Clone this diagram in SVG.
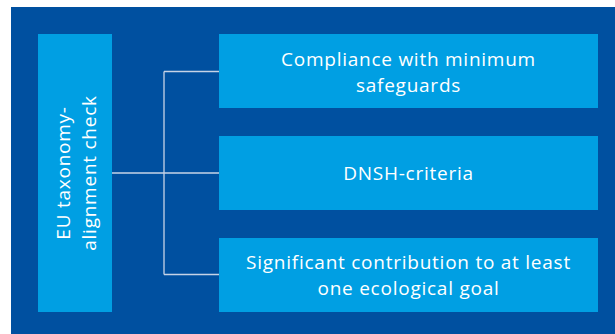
<svg xmlns="http://www.w3.org/2000/svg" width="615" height="334" viewBox="0 0 615 334">
<style>
.bg{fill:#0050a0}
.box{fill:#009fe3}
.t{font-family:"Open Sans","Noto Sans","Liberation Sans",sans-serif;font-size:19px;letter-spacing:0.75px;fill:#ffffff;text-anchor:middle}
.ln{stroke:#c6d3e6;stroke-width:1.3;fill:none}
</style>
<rect x="0" y="0" width="615" height="334" fill="#ffffff"/>
<rect class="bg" x="11" y="7" width="604" height="327"/>
<g id="connectors">
<path class="ln" d="M112 173H219M164 71.5V274.5M164 71.5H219M164 274.5H219"/>
</g>
<g id="node-check">
<rect class="box" x="38" y="34" width="74" height="278"/>
<g transform="translate(75,173) rotate(-90)">
<text class="t" x="0" y="-5">EU taxonomy-</text>
<text class="t" x="0" y="21">alignment check</text>
</g>
</g>
<g id="node-safeguards">
<rect class="box" x="219" y="34" width="379" height="74"/>
<text class="t" x="408.5" y="66">Compliance with minimum</text>
<text class="t" x="408.5" y="92">safeguards</text>
</g>
<g id="node-dnsh">
<rect class="box" x="219" y="136" width="379" height="74"/>
<text class="t" x="408.5" y="180">DNSH-criteria</text>
</g>
<g id="node-contribution">
<rect class="box" x="219" y="238" width="379" height="74"/>
<text class="t" x="408.5" y="269">Significant contribution to at least</text>
<text class="t" x="408.5" y="295">one ecological goal</text>
</g>
</svg>
